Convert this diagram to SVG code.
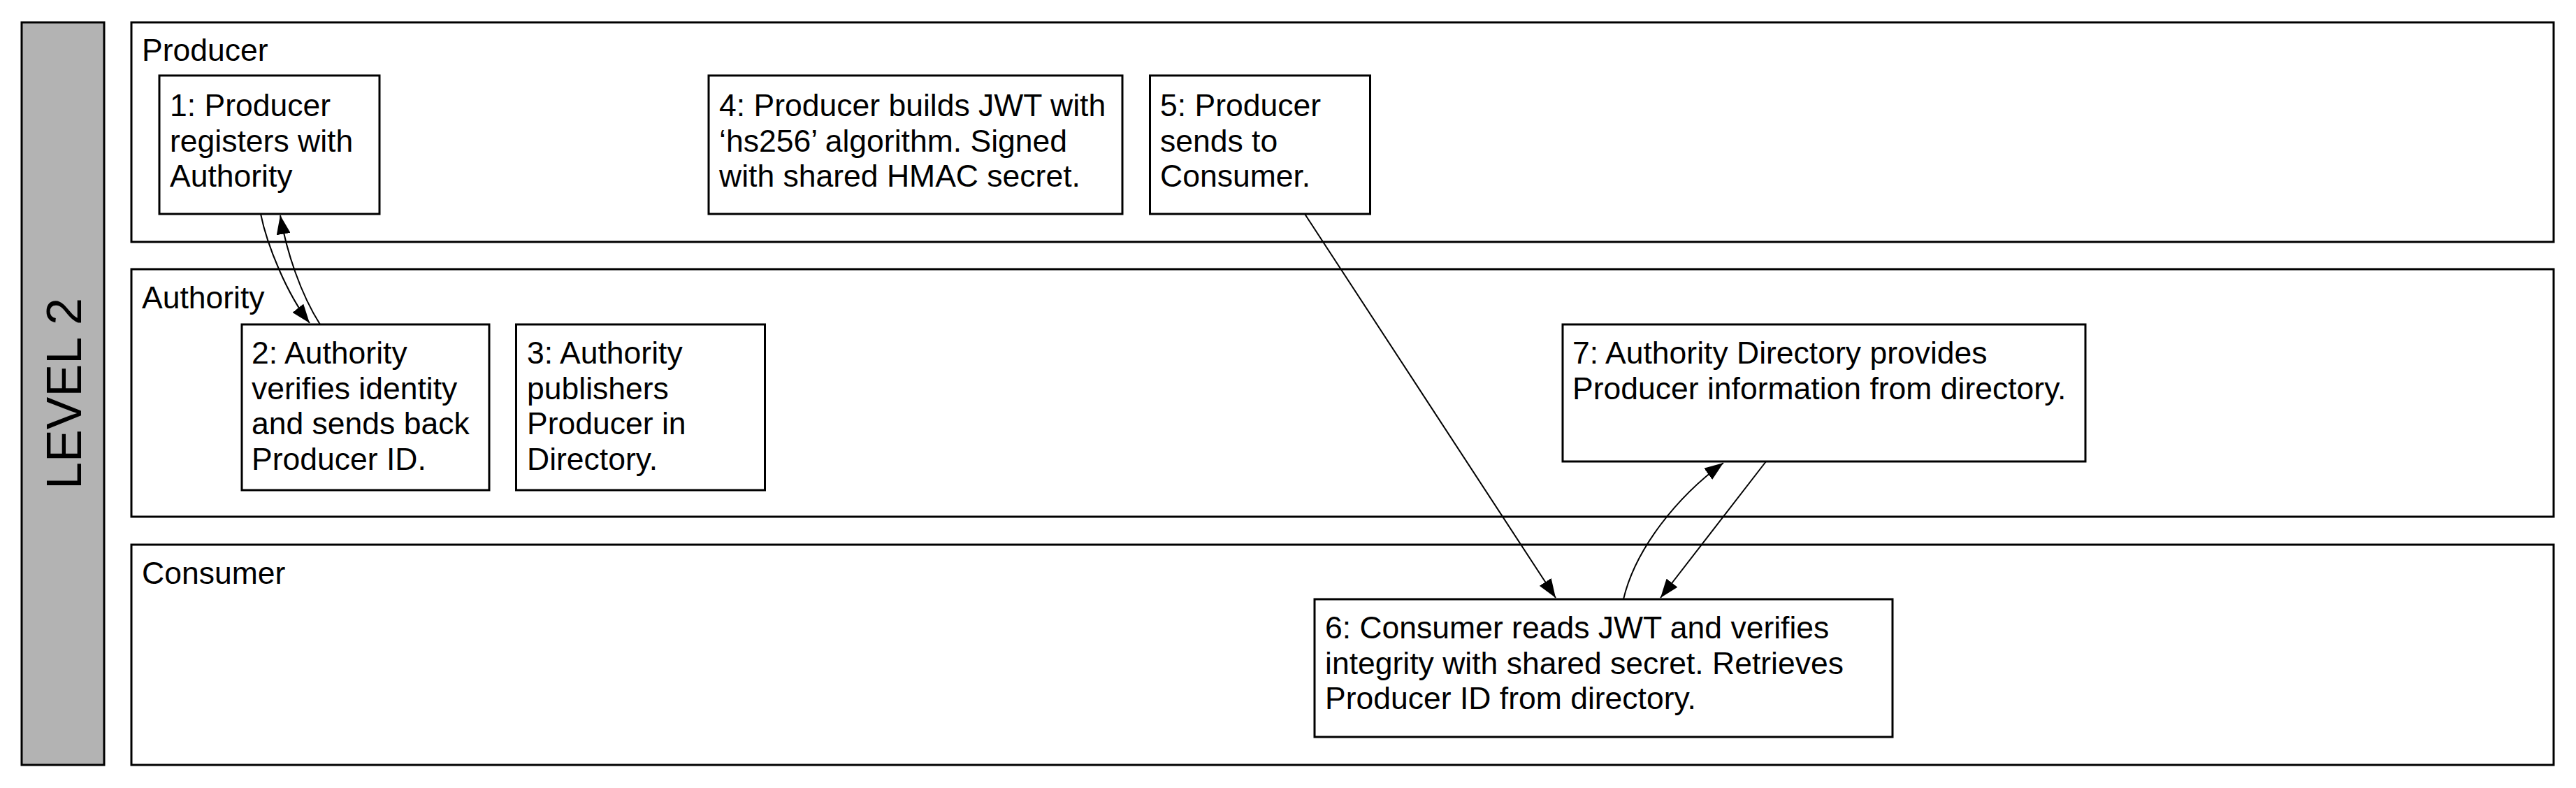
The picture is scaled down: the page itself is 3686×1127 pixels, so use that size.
<svg xmlns="http://www.w3.org/2000/svg" width="3686" height="1127" viewBox="0 0 3686 1127">
<style>
.lane{fill:#fff;stroke:#000;stroke-width:3}
.box{fill:#fff;stroke:#000;stroke-width:3}
.t{font-family:"Liberation Sans",Arial,Helvetica,sans-serif;font-size:44.5px;fill:#000}
.c{fill:none;stroke:#000;stroke-width:2}
</style>
<defs>
<marker id="ah" markerUnits="userSpaceOnUse" markerWidth="28" markerHeight="20" refX="27" refY="10" orient="auto" viewBox="0 0 28 20">
<path d="M0,0 L27,10 L0,20 z" fill="#000"/>
</marker>
</defs>
<rect x="0" y="0" width="3686" height="1127" fill="#fff"/>
<g id="level">
<rect x="31" y="32" width="118" height="1062" fill="#b3b3b3" stroke="#000" stroke-width="3"/>
<text class="t" style="font-size:70px" text-anchor="middle" transform="translate(116,563) rotate(-90)">LEVEL 2</text>
</g>
<g id="lane-producer">
<rect class="lane" x="188" y="32" width="3466" height="314"/>
<text class="t" x="203" y="87">Producer</text>
</g>
<g id="lane-authority">
<rect class="lane" x="188" y="385" width="3466" height="354"/>
<text class="t" x="203" y="441">Authority</text>
</g>
<g id="lane-consumer">
<rect class="lane" x="188" y="779" width="3466" height="315"/>
<text class="t" x="203" y="835">Consumer</text>
</g>
<g id="node1">
<rect class="box" x="228" y="108" width="315" height="198"/>
<text class="t" x="243"><tspan x="243" y="166">1: Producer</tspan><tspan x="243" y="216.5">registers with</tspan><tspan x="243" y="267">Authority</tspan></text>
</g>
<g id="node2">
<rect class="box" x="346" y="464" width="354" height="237"/>
<text class="t"><tspan x="360" y="520">2: Authority</tspan><tspan x="360" y="570.5">verifies identity</tspan><tspan x="360" y="621">and sends back</tspan><tspan x="360" y="671.5">Producer ID.</tspan></text>
</g>
<g id="node3">
<rect class="box" x="738.5" y="464" width="356" height="237"/>
<text class="t"><tspan x="754" y="520">3: Authority</tspan><tspan x="754" y="570.5">publishers</tspan><tspan x="754" y="621">Producer in</tspan><tspan x="754" y="671.5">Directory.</tspan></text>
</g>
<g id="node4">
<rect class="box" x="1014" y="108" width="592" height="198"/>
<text class="t"><tspan x="1029" y="166">4: Producer builds JWT with</tspan><tspan x="1029" y="216.5">‘hs256’ algorithm. Signed</tspan><tspan x="1029" y="267">with shared HMAC secret.</tspan></text>
</g>
<g id="node5">
<rect class="box" x="1645.5" y="108" width="315" height="198"/>
<text class="t"><tspan x="1660" y="166">5: Producer</tspan><tspan x="1660" y="216.5">sends to</tspan><tspan x="1660" y="267">Consumer.</tspan></text>
</g>
<g id="node7">
<rect class="box" x="2236" y="464" width="748" height="196"/>
<text class="t"><tspan x="2250" y="520">7: Authority Directory provides</tspan><tspan x="2250" y="570.5">Producer information from directory.</tspan></text>
</g>
<g id="node6">
<rect class="box" x="1881" y="857" width="827" height="197"/>
<text class="t"><tspan x="1896" y="913">6: Consumer reads JWT and verifies</tspan><tspan x="1896" y="963.5">integrity with shared secret. Retrieves</tspan><tspan x="1896" y="1014">Producer ID from directory.</tspan></text>
</g>
<g id="connectors">
<path class="c" d="M373,306 C382,350 410,420 443,462" marker-end="url(#ah)"/>
<path class="c" d="M458,464 C430,420 410,360 401,308" marker-end="url(#ah)"/>
<path class="c" d="M1867,306 L2226,855" marker-end="url(#ah)"/>
<path class="c" d="M2323,857 C2340,785 2400,710 2466,662" marker-end="url(#ah)"/>
<path class="c" d="M2527,660 L2376,855" marker-end="url(#ah)"/>
</g>
</svg>
